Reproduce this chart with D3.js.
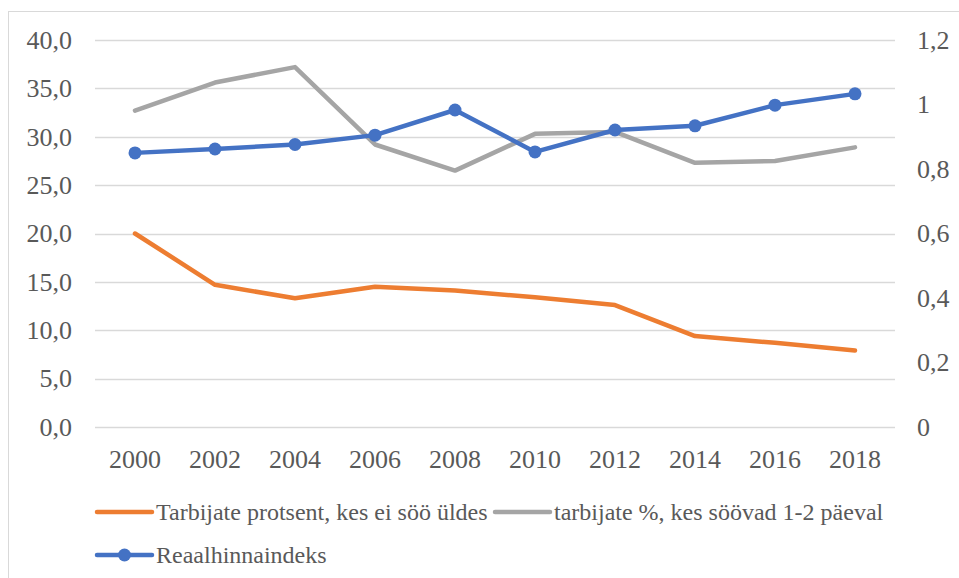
<html>
<head>
  <meta charset="utf-8">
  <script src="https://d3js.org/d3.v7.min.js"></script>
</head>
<body style="margin:0">
  <svg width="959" height="578"></svg>

<script>
var years = ["2000","2002","2004","2006","2008","2010","2012","2014","2016","2018"];
var eiSoo = [20.0, 14.7, 13.3, 14.5, 14.1, 13.4, 12.6, 9.4, 8.7, 7.9];
var soovad12 = [32.7, 35.6, 37.2, 29.2, 26.5, 30.3, 30.5, 27.3, 27.5, 28.9];
var hinnaindeks = [0.85, 0.862, 0.876, 0.905, 0.983, 0.853, 0.921, 0.934, 0.998, 1.033];
var leftTicks = [0, 5, 10, 15, 20, 25, 30, 35, 40];
var rightTicks = [0, 0.2, 0.4, 0.6, 0.8, 1, 1.2];
var names = ["Tarbijate protsent, kes ei söö üldes", "tarbijate %, kes söövad 1-2 päeval", "Reaalhinnaindeks"];
var colors = ["#ED7D31", "#A5A5A5", "#4472C4"];

var svg = d3.select("svg");

// outer chart border (cropped at right/bottom)
svg.append("rect").attr("x", 8.5).attr("y", 11.5).attr("width", 1000).attr("height", 1000)
  .attr("fill", "none").attr("stroke", "#D9D9D9").attr("stroke-width", 1);

var x = d3.scaleBand().domain(years).range([95, 895]);
var yL = d3.scaleLinear().domain([0, 40]).range([427, 40]);
var yR = d3.scaleLinear().domain([0, 1.2]).range([427, 40]);

function comma(v, d) { return d3.format("." + d + "f")(v).replace(".", ","); }

function styleText(sel, size) {
  sel.attr("font-family", "Liberation Serif")
    .style("font-family", "'Liberation Serif'")
    .style("font-size", size + "px").style("fill", "#595959");
}

// gridlines
svg.append("g").selectAll("line").data(leftTicks).enter().append("line")
  .attr("x1", 95).attr("x2", 895)
  .attr("y1", function(d){ return Math.round(yL(d)) + 0.5; })
  .attr("y2", function(d){ return Math.round(yL(d)) + 0.5; })
  .attr("stroke", "#D9D9D9").attr("stroke-width", 1.5);

// left axis
var axL = d3.axisLeft(yL).tickValues(leftTicks).tickSize(0).tickPadding(0)
  .tickFormat(function(d){ return comma(d, 1); });
var gL = svg.append("g").attr("transform", "translate(72,0)").call(axL).attr("font-family", null);
gL.select(".domain").remove();
gL.selectAll("text").call(styleText, 26);

// right axis
var axR = d3.axisRight(yR).tickValues(rightTicks).tickSize(0).tickPadding(0)
  .tickFormat(function(d){ return d3.format("~g")(d).replace(".", ","); });
var gR = svg.append("g").attr("transform", "translate(917,0)").call(axR).attr("font-family", null);
gR.select(".domain").remove();
gR.selectAll("text").call(styleText, 26);

// x axis
var axX = d3.axisBottom(x).tickSize(0).tickPadding(0);
var gX = svg.append("g").attr("transform", "translate(0,450)").call(axX).attr("font-family", null);
gX.select(".domain").remove();
gX.selectAll("text").call(styleText, 26);

function cx(d, i) { return x(years[i]) + x.bandwidth() / 2; }

var lineL = d3.line().x(cx).y(function(d){ return yL(d); });
var lineR = d3.line().x(cx).y(function(d){ return yR(d); });

svg.append("path").datum(soovad12).attr("d", lineL)
  .attr("fill", "none").attr("stroke", colors[1]).attr("stroke-width", 4.5)
  .attr("stroke-linejoin", "round").attr("stroke-linecap", "round");
svg.append("path").datum(eiSoo).attr("d", lineL)
  .attr("fill", "none").attr("stroke", colors[0]).attr("stroke-width", 4.5)
  .attr("stroke-linejoin", "round").attr("stroke-linecap", "round");
svg.append("path").datum(hinnaindeks).attr("d", lineR)
  .attr("fill", "none").attr("stroke", colors[2]).attr("stroke-width", 4.5)
  .attr("stroke-linejoin", "round").attr("stroke-linecap", "round");
svg.append("g").selectAll("circle").data(hinnaindeks).enter().append("circle")
  .attr("cx", cx).attr("cy", function(d){ return yR(d); })
  .attr("r", 6.5).attr("fill", colors[2]);

// legend
var legendPos = [[97, 512], [495, 512], [97, 555]];
var lg = svg.append("g").selectAll("g").data(names).enter().append("g")
  .attr("transform", function(d, i){ return "translate(" + legendPos[i][0] + "," + legendPos[i][1] + ")"; });
lg.append("line").attr("x1", 0).attr("x2", 55).attr("y1", 0).attr("y2", 0)
  .attr("stroke", function(d, i){ return colors[i]; }).attr("stroke-width", 4.5)
  .attr("stroke-linecap", "round");
lg.filter(function(d, i){ return i == 2; }).append("circle")
  .attr("cx", 27.5).attr("cy", 0).attr("r", 6.5).attr("fill", colors[2]);
lg.append("text").attr("x", 59).attr("y", 0).attr("dy", "0.35em")
  .text(function(d){ return d; }).call(styleText, 24);
</script>
</body></html>
